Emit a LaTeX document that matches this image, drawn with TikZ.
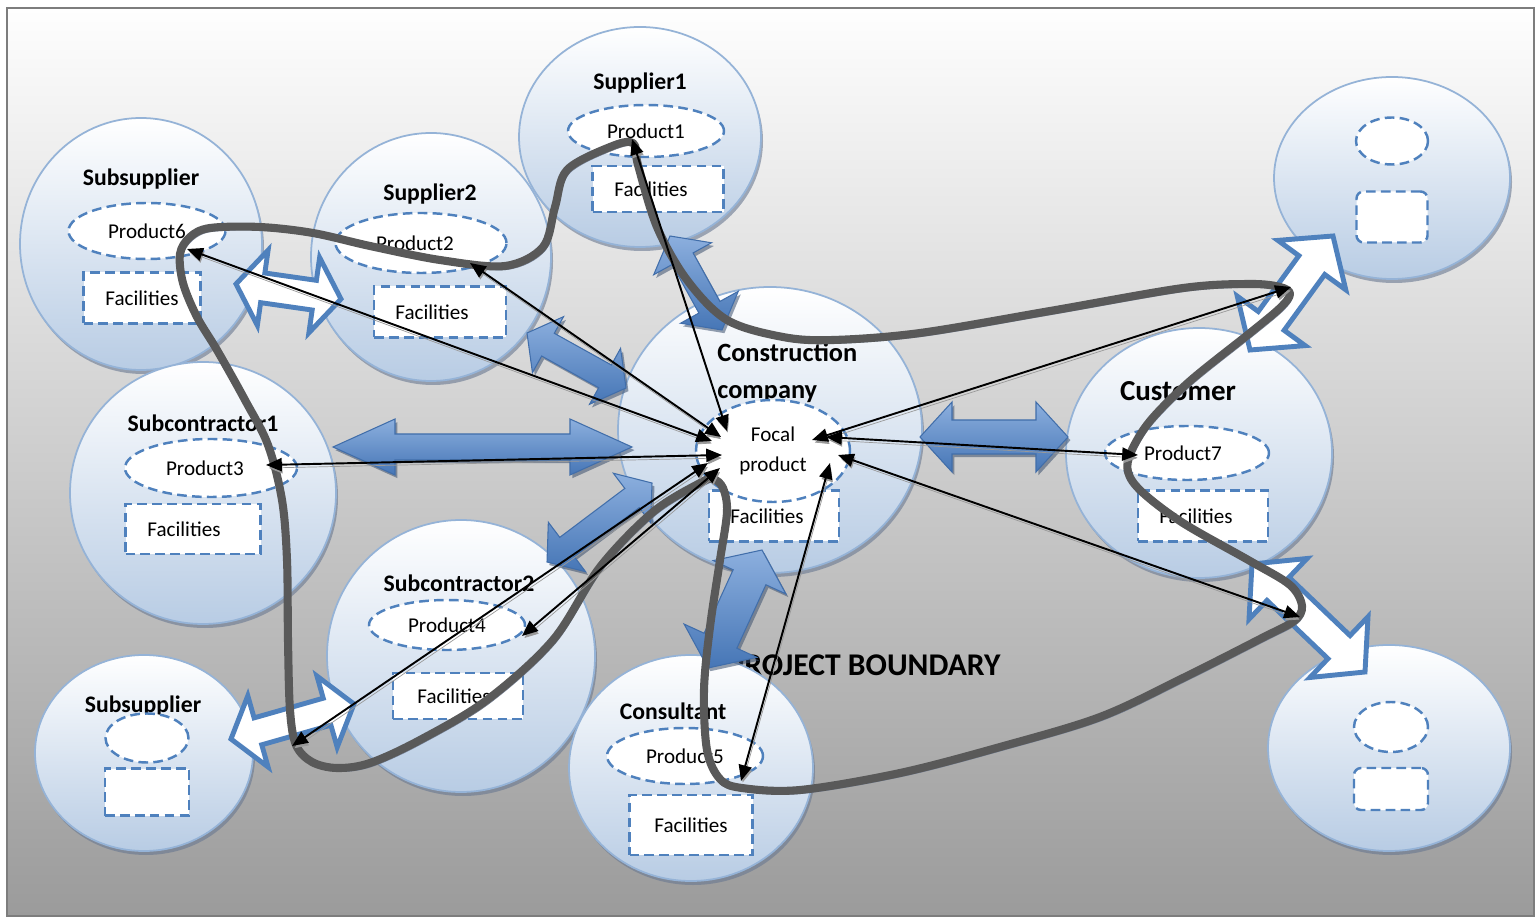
\documentclass[tikz,border=0pt]{standalone}
\usepackage{fontspec}
\setmainfont{Carlito}
\usetikzlibrary{shapes.geometric,calc,arrows.meta}
\definecolor{bdr}{RGB}{149,179,215}
\definecolor{efill}{RGB}{184,204,228}
\definecolor{dashblue}{RGB}{79,129,189}
\definecolor{shd}{RGB}{105,120,145}
\definecolor{arrlight}{RGB}{140,175,222}
\definecolor{arrdark}{RGB}{70,118,182}
\definecolor{arredge}{RGB}{65,110,170}
\definecolor{arrshd}{RGB}{60,80,110}
\definecolor{curvegray}{RGB}{89,89,89}
\definecolor{curveshd}{RGB}{110,125,152}
\definecolor{bgtop}{RGB}{254,254,254}
\definecolor{bgbot}{RGB}{155,155,155}
\definecolor{framegray}{RGB}{125,125,125}

\newcommand\orgnode[5]{%
  \node[orgshadow, minimum width={2*#4*0.02cm}, minimum height={2*#5*0.02cm}] at (#2+2,#3+4) {};
  \node[org, minimum width={2*#4*0.02cm}, minimum height={2*#5*0.02cm}] (#1) at (#2,#3) {};}

% #1 style, #2 A, #3 B, #4 shaft half width, #5 head half width, #6 head length (px)
\newcommand\blockarrow[6]{%
  \coordinate (baP) at ($(#2)!#6*0.02cm!(#3)$);
  \coordinate (baQ) at ($(#3)!#6*0.02cm!(#2)$);
  \path[#1] (#2) -- ($(baP)!#5*0.02cm!90:(#3)$) -- ($(baP)!#4*0.02cm!90:(#3)$)
    -- ($(baQ)!#4*0.02cm!-90:(#2)$) -- ($(baQ)!#5*0.02cm!-90:(#2)$) -- (#3)
    -- ($(baQ)!#5*0.02cm!90:(#2)$) -- ($(baQ)!#4*0.02cm!90:(#2)$)
    -- ($(baP)!#4*0.02cm!-90:(#3)$) -- ($(baP)!#5*0.02cm!-90:(#3)$) -- cycle;}

\newcommand\filledarrow[5]{%
  \blockarrow{fill=arrshd, opacity=0.55, transform canvas={shift={(1.4pt,-1.8pt)}}}{#1}{#2}{#3}{#4}{#5}
  \blockarrow{barfill}{#1}{#2}{#3}{#4}{#5}}

\begin{document}
\begin{tikzpicture}[x=0.02cm,y=-0.02cm,
  org/.style={ellipse, draw=bdr, line width=1pt, top color=white, bottom color=efill, inner sep=0pt},
  orgshadow/.style={ellipse, fill=shd, opacity=0.6, inner sep=0pt},
  dashline/.style={draw=dashblue, line width=1.4pt, dash pattern=on 5.5pt off 3pt},
  prodell/.style={ellipse, dashline, fill=white, inner sep=0pt, font=\fontsize{12}{14}\selectfont},
  facbox/.style={rectangle, dashline, fill=white, inner sep=0pt, font=\fontsize{12}{14}\selectfont},
  title/.style={inner sep=0pt, font=\bfseries\fontsize{13.5}{16}\selectfont},
  barfill/.style={top color=arrlight, bottom color=arrdark, draw=arredge, line width=0.6pt, line join=miter},
  barout/.style={fill=white, draw=dashblue, line width=2.8pt, line join=miter, miter limit=6},
  conn/.style={<->, >={Triangle[length=9pt,width=7.5pt]}, line width=1.1pt, black,
     preaction={draw=black!40, transform canvas={shift={(0.7pt,-1.7pt)}}}},
  boundary/.style={draw=curvegray, line width=4.6pt, line cap=round, line join=round,
     preaction={draw=curveshd, opacity=0.85, transform canvas={shift={(1.3pt,-2pt)}}}}
]
\useasboundingbox (0,0) rectangle (1535,918);
\draw[draw=framegray, line width=1pt, top color=bgtop, bottom color=bgbot] (7,8) rectangle (1534,916);

\node[inner sep=0pt, font=\bfseries\fontsize{18}{20}\selectfont] (pb) at (864,665) {PROJECT BOUNDARY};

% organisations
\orgnode{subsupA}{141}{244}{121}{126}
\orgnode{sup2}{431}{257}{120}{124}
\orgnode{sup1}{640}{137}{121}{110}
\orgnode{subc1}{203}{493}{133}{131}
\orgnode{cc}{770}{430}{152}{143}
\orgnode{subc2}{461}{656}{134}{136}
\orgnode{subsupB}{144}{753}{109}{98}
\orgnode{cons}{691}{768}{122}{113}
\orgnode{cust}{1199}{453}{133}{125}
\orgnode{tr}{1392}{178}{118}{101}
\orgnode{br}{1389}{748}{121}{103}

% titles
\node[title] (tA) at (141,179) {Subsupplier};
\node[title] (t2) at (430,194) {Supplier2};
\node[title] (t1) at (640,83) {Supplier1};
\node[inner sep=0pt, anchor=west, align=left, font=\bfseries\fontsize{15}{21}\selectfont] (tcc) at (717,373) {Construction\\company};
\node[title] (tc1) at (203,423) {Subcontractor1};
\node[title] (tc2) at (459,583) {Subcontractor2};
\node[title] (tB) at (143,706) {Subsupplier};
\node[title] (tcons) at (673,711) {Consultant};
\node[inner sep=0pt, font=\bfseries\fontsize{16.5}{19}\selectfont] (tcust) at (1178,391) {Customer};

% products and facilities
\node[prodell, minimum width={157*0.02cm}, minimum height={56*0.02cm}] (p6) at (147,231) {Product6};
\node[facbox, minimum width={117*0.02cm}, minimum height={51*0.02cm}] (fac6) at (142,298) {Facilities};
\node[prodell, minimum width={171*0.02cm}, minimum height={60*0.02cm}] (p2) at (421,243) {\hspace*{-0.24cm}Product2};
\node[facbox, minimum width={132*0.02cm}, minimum height={51*0.02cm}] (fac2) at (440,312) {\hspace*{-0.32cm}Facilities};
\node[prodell, minimum width={156*0.02cm}, minimum height={52*0.02cm}] (p1) at (646,131) {Product1};
\node[facbox, minimum width={131*0.02cm}, minimum height={46*0.02cm}] (fac1) at (658,189) {\hspace*{-0.28cm}Facilities};
\node[facbox, minimum width={130*0.02cm}, minimum height={51*0.02cm}] (facc) at (774,516) {\hspace*{-0.28cm}Facilities};
\node[prodell, align=center, minimum width={154*0.02cm}, minimum height={102*0.02cm}, font=\fontsize{12}{17}\selectfont] (focal) at (773,451) {Focal\\product};
\node[prodell, minimum width={172*0.02cm}, minimum height={58*0.02cm}] (p3) at (211,468) {\hspace*{-0.24cm}Product3};
\node[facbox, minimum width={135*0.02cm}, minimum height={50*0.02cm}] (fac3) at (193,529) {\hspace*{-0.36cm}Facilities};
\node[prodell, minimum width={156*0.02cm}, minimum height={50*0.02cm}] (p4) at (447,625) {Product4};
\node[facbox, minimum width={130*0.02cm}, minimum height={46*0.02cm}] (fac4) at (458,696) {\hspace*{-0.16cm}Facilities};
\node[prodell, minimum width={83*0.02cm}, minimum height={49*0.02cm}] (pB) at (147,738) {};
\node[facbox, minimum width={84*0.02cm}, minimum height={47*0.02cm}] (facB) at (147,792) {};
\node[prodell, minimum width={156*0.02cm}, minimum height={56*0.02cm}] (p5) at (685,756) {Product5};
\node[facbox, minimum width={123*0.02cm}, minimum height={60*0.02cm}] (fac5) at (691,825) {Facilities};
\node[prodell, minimum width={164*0.02cm}, minimum height={54*0.02cm}] (p7) at (1187,453) {\hspace*{-0.16cm}Product7};
\node[facbox, minimum width={130*0.02cm}, minimum height={51*0.02cm}] (fac7) at (1203,516) {\hspace*{-0.28cm}Facilities};
\node[prodell, minimum width={72*0.02cm}, minimum height={47*0.02cm}] (pT) at (1392,141) {};
\node[facbox, rounded corners=4pt, minimum width={71*0.02cm}, minimum height={51*0.02cm}] (facT) at (1392,217) {};
\node[prodell, minimum width={74*0.02cm}, minimum height={50*0.02cm}] (pR) at (1391,727) {};
\node[facbox, rounded corners=4pt, minimum width={74*0.02cm}, minimum height={42*0.02cm}] (facR) at (1391,789) {};

% block arrow end points
\coordinate (a1s) at (670,236); \coordinate (a1e) at (722,330);
\coordinate (a2s) at (527,333); \coordinate (a2e) at (626,388);
\coordinate (a3s) at (333,447); \coordinate (a3e) at (632,447);
\coordinate (a4s) at (547,562); \coordinate (a4e) at (652,483);
\coordinate (a5s) at (762,550); \coordinate (a5e) at (708,668);
\coordinate (a6s) at (920,437); \coordinate (a6e) at (1068,437);
\coordinate (o1s) at (236,284); \coordinate (o1e) at (341,299);
\coordinate (o2s) at (231,739); \coordinate (o2e) at (354,704);
\coordinate (o3s) at (1250,350); \coordinate (o3e) at (1333,236);
\coordinate (o4s) at (1252,564); \coordinate (o4e) at (1365,672);

\filledarrow{a1s}{a1e}{12}{33}{26}
\filledarrow{a2s}{a2e}{13}{32}{24}
\filledarrow{a3s}{a3e}{13}{28}{62}
\filledarrow{a4s}{a4e}{12}{31}{25}
\filledarrow{a5s}{a5e}{18}{40}{30}
\filledarrow{a6s}{a6e}{17}{35}{32}

\blockarrow{barout}{o1s}{o1e}{15}{38}{27}
\blockarrow{barout}{o2s}{o2e}{14}{37}{28}
\blockarrow{barout}{o3s}{o3e}{16}{42}{36}
\blockarrow{barout}{o4s}{o4e}{16}{42}{36}

% project boundary
\draw[boundary] plot[smooth cycle, tension=0.55] coordinates {
 (633,143) (610,147) (567,170) (555,207) (543,247) (505,266) (440,260) (370,246)
 (313,233) (260,227) (210,228) (190,237) (180,254) (183,283) (197,317) (217,350)
 (245,400) (268,445) (282,500) (287,560) (288,640) (290,710) (296,745) (312,762)
 (337,768) (370,763) (420,740) (487,700) (553,640) (600,567) (653,512) (700,483)
 (713,479) (723,488) (727,512) (720,560) (710,627) (704,690) (707,750) (720,779)
 (742,788) (800,790) (900,773) (1000,747) (1100,717) (1183,678) (1262,638)
 (1294,621) (1302,606) (1290,585) (1250,561) (1183,523) (1142,492) (1128,472)
 (1131,452) (1150,421) (1190,381) (1250,333) (1280,308) (1290,294) (1280,287)
 (1250,284) (1183,288) (1050,311) (920,333) (833,340) (783,337) (727,320)
 (687,280) (657,227) (638,165)};

% thin connectors
\coordinate (e6) at (187,249); \coordinate (f6) at (712,441);
\coordinate (e2) at (470,263); \coordinate (f2) at (721,437);
\coordinate (e1) at (632,139); \coordinate (f1) at (727,431);
\coordinate (e3) at (266,465); \coordinate (f3) at (722,455);
\coordinate (e4) at (522,636); \coordinate (f4) at (720,468);
\coordinate (es) at (292,746); \coordinate (fs) at (708,463);
\coordinate (e5) at (741,781); \coordinate (f5) at (830,463);
\coordinate (et) at (1291,287); \coordinate (ft) at (812,440);
\coordinate (e7) at (1138,455); \coordinate (f7) at (826,437);
\coordinate (eb) at (1300,617); \coordinate (fb) at (838,455);

\draw[conn] (e6) -- (f6);
\draw[conn] (e2) -- (f2);
\draw[conn] (e1) -- (f1);
\draw[conn] (e3) -- (f3);
\draw[conn] (e4) -- (f4);
\draw[conn] (es) -- (fs);
\draw[conn] (e5) -- (f5);
\draw[conn] (et) -- (ft);
\draw[conn] (e7) -- (f7);
\draw[conn] (eb) -- (fb);
\end{tikzpicture}
\end{document}
